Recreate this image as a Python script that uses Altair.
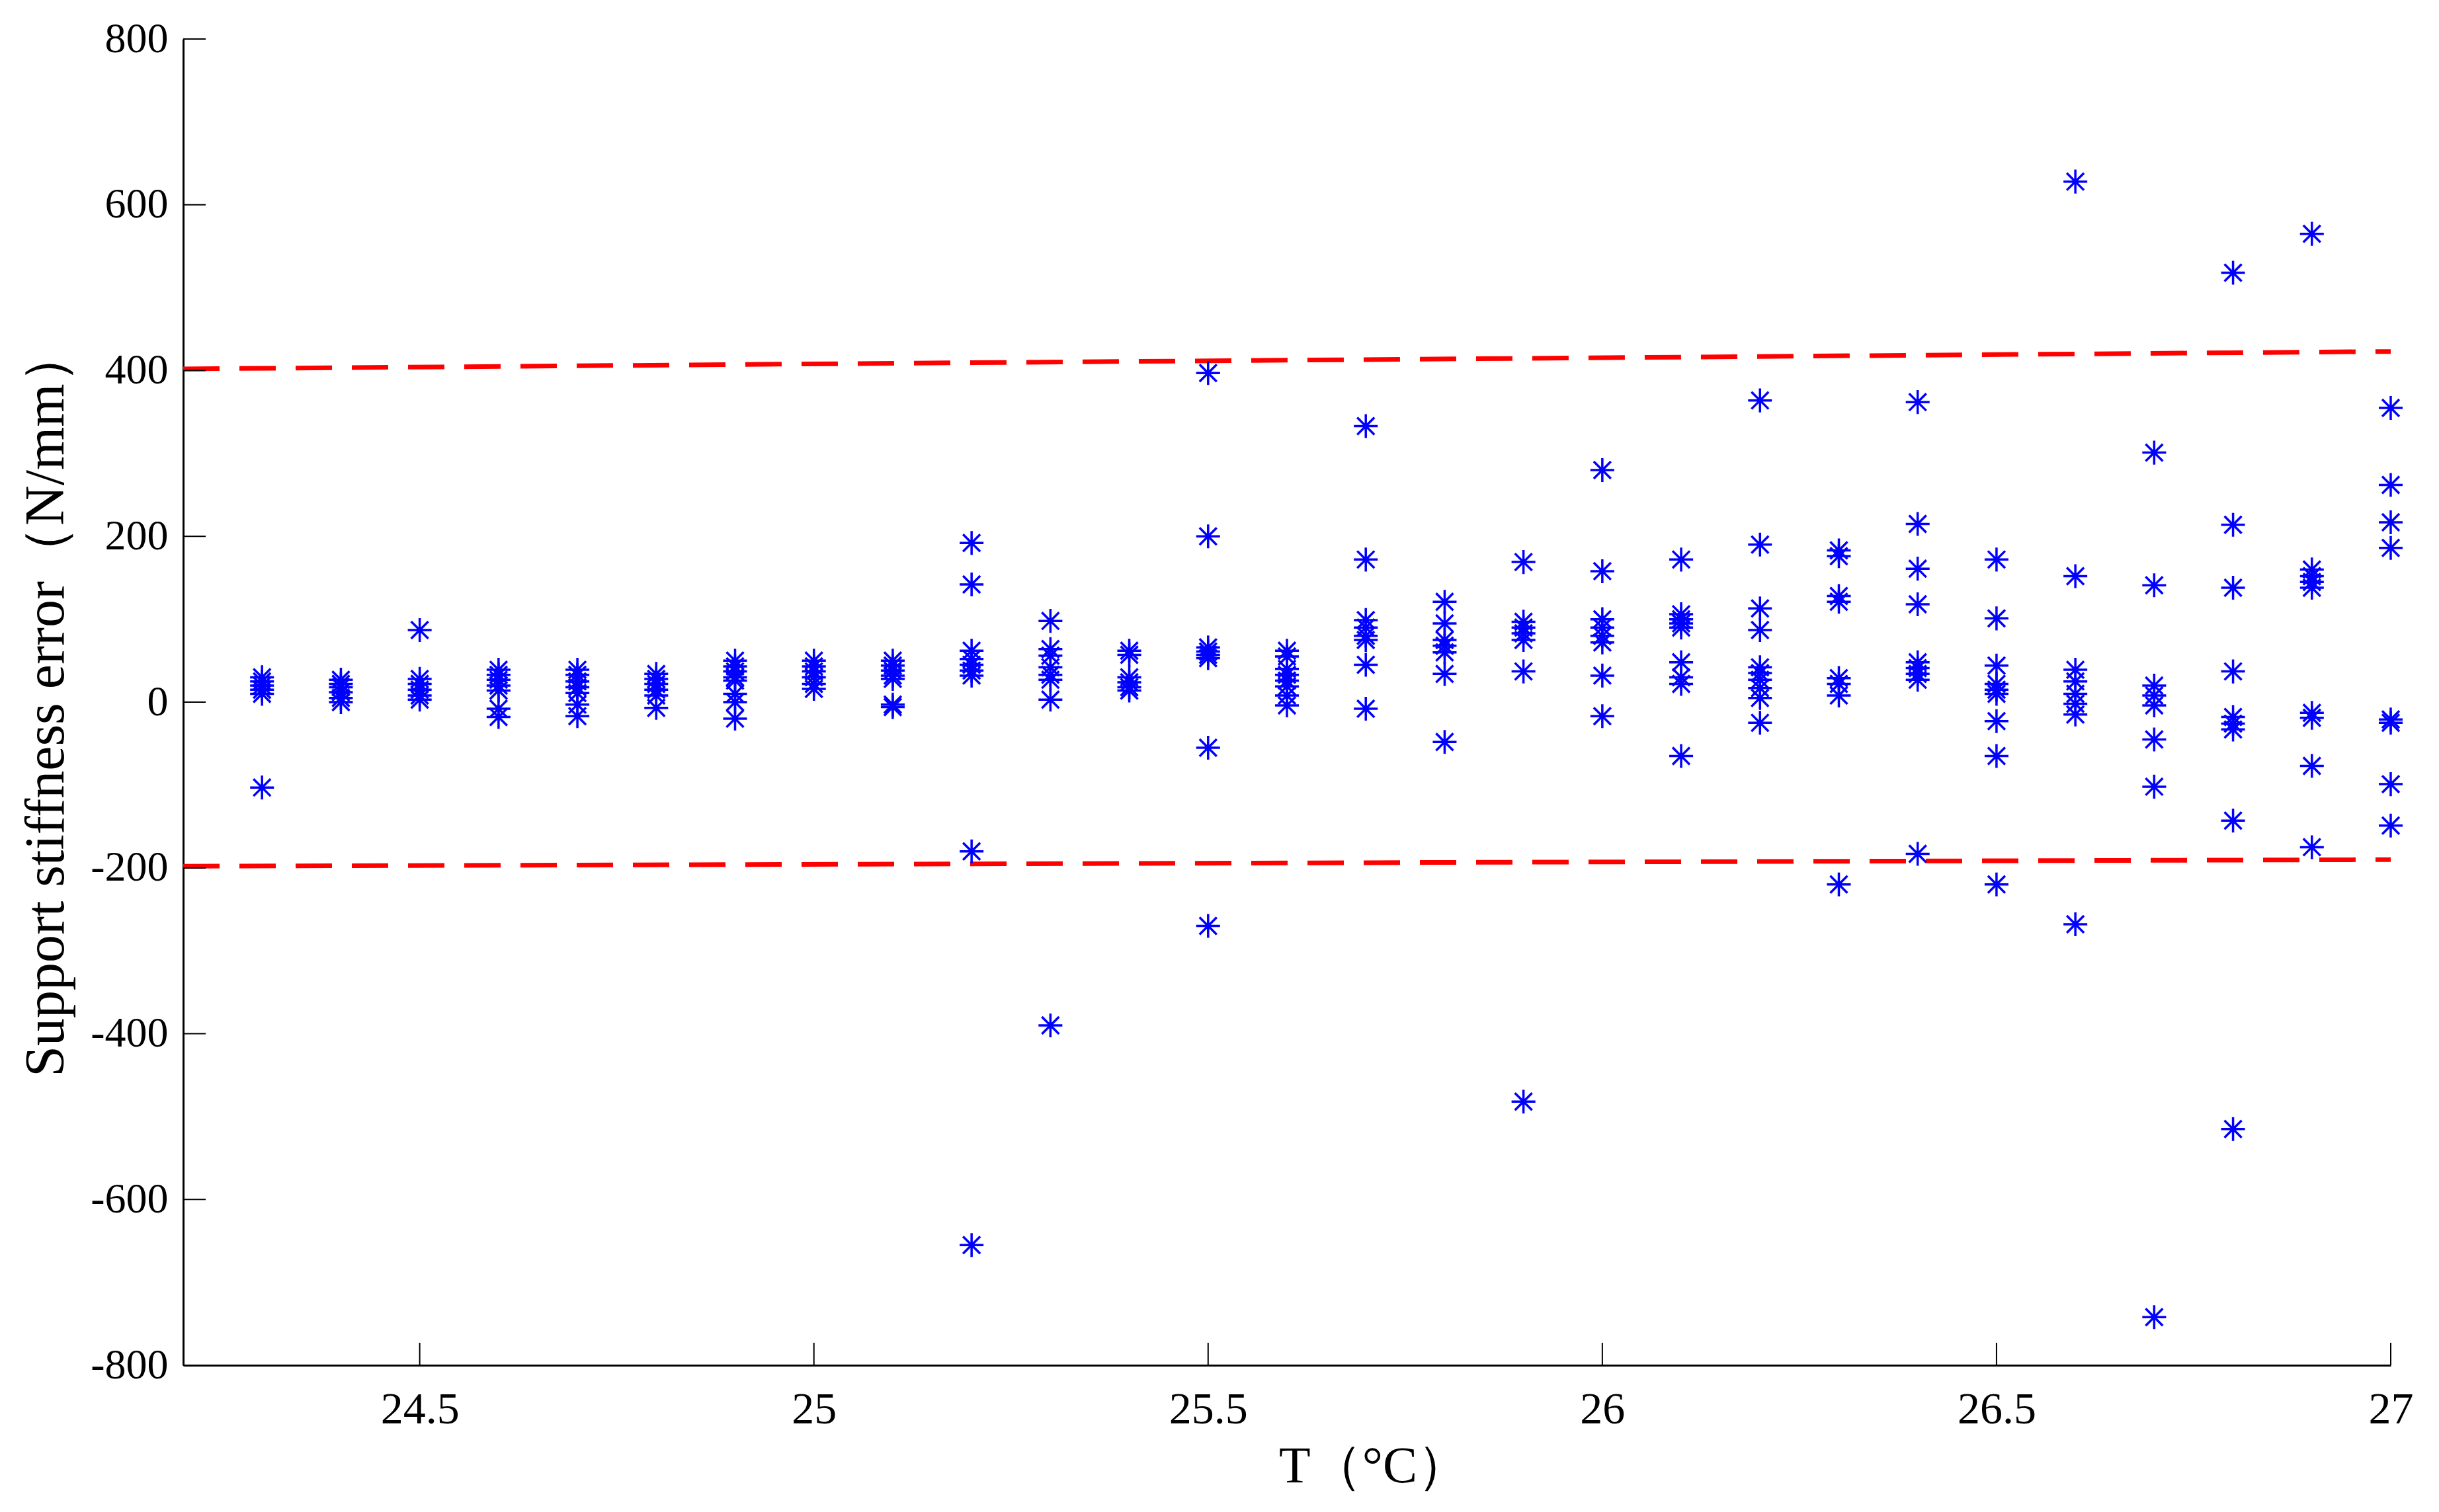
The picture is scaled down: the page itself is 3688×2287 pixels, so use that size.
import altair as alt
import pandas as pd

# ---- data ----
temps = [24.3, 24.4, 24.5, 24.6, 24.7, 24.8, 24.9, 25.0, 25.1, 25.2, 25.3, 25.4, 25.5, 25.6,
         25.7, 25.8, 25.9, 26.0, 26.1, 26.2, 26.3, 26.4, 26.5, 26.6, 26.7, 26.8, 26.9, 27.0]

err_24_3 = [30, 25, 20, 15, 10, -103]
err_24_4 = [27, 22, 18, 12, 5, 0]
err_24_5 = [87, 28, 22, 15, 8, 3]
err_24_6 = [39, 33, 27, 20, 14, -8, -18]
err_24_7 = [39, 33, 25, 18, 11, -3, -17]
err_24_8 = [34, 28, 22, 15, 8, -7]
err_24_9 = [50, 43, 37, 30, 26, 10, 0, -20]
err_25_0 = [50, 43, 37, 30, 22, 16]
err_25_1 = [50, 44, 38, 32, 28, -3, -6]
err_25_2 = [192, 142, 62, 52, 45, 38, 32, -180, -655]
err_25_3 = [98, 64, 56, 42, 33, 27, 3, -390]
err_25_4 = [62, 57, 30, 24, 18, 14]
err_25_5 = [397, 200, 66, 61, 57, 53, -55, -270]
err_25_6 = [62, 55, 40, 33, 26, 19, 8, -4]
err_25_7 = [333, 172, 99, 90, 80, 75, 45, -8]
err_25_8 = [121, 95, 75, 68, 60, 34, -48]
err_25_9 = [169, 97, 90, 83, 75, 37, -482]
err_26_0 = [280, 158, 100, 90, 80, 72, 32, -17]
err_26_1 = [172, 106, 100, 95, 90, 48, 30, 22, -65]
err_26_2 = [364, 190, 113, 87, 42, 35, 27, 17, 5, -25]
err_26_3 = [183, 176, 128, 121, 29, 22, 8, -220]
err_26_4 = [362, 215, 161, 118, 48, 41, 34, 27, -183]
err_26_5 = [172, 101, 44, 22, 15, 10, -23, -65, -220]
err_26_6 = [628, 152, 39, 25, 10, -2, -15, -268]
err_26_7 = [301, 141, 20, 8, -4, -45, -102, -742]
err_26_8 = [518, 214, 138, 37, -18, -26, -33, -143, -515]
err_26_9 = [565, 160, 152, 145, 138, -13, -19, -77, -175]
err_27_0 = [355, 262, 217, 186, -21, -25, -99, -149]

errors = [err_24_3, err_24_4, err_24_5, err_24_6, err_24_7, err_24_8, err_24_9, err_25_0,
          err_25_1, err_25_2, err_25_3, err_25_4, err_25_5, err_25_6, err_25_7, err_25_8,
          err_25_9, err_26_0, err_26_1, err_26_2, err_26_3, err_26_4, err_26_5, err_26_6,
          err_26_7, err_26_8, err_26_9, err_27_0]

# dashed bound lines (end points)
bound_t = [24.2, 27.0]
upper_bound = [402, 423]
lower_bound = [-198, -190]

x_ticks = [24.5, 25, 25.5, 26, 26.5, 27]
y_ticks = [-800, -600, -400, -200, 0, 200, 400, 600, 800]

# ---- tables ----
pts = pd.DataFrame([(t, v) for t, vals in zip(temps, errors) for v in vals], columns=["T", "E"])
bounds = pd.DataFrame(
    [(t, v, "upper") for t, v in zip(bound_t, upper_bound)]
    + [(t, v, "lower") for t, v in zip(bound_t, lower_bound)],
    columns=["T", "E", "which"],
)
xt = pd.DataFrame({"T": x_ticks})
yt = pd.DataFrame({"E": y_ticks})

W, H = 3338, 2006
FONT = "Liberation Serif"
TICK_LEN = 34

xscale = alt.Scale(domain=[24.2, 27], nice=False, zero=False)
yscale = alt.Scale(domain=[-800, 800], nice=False, zero=False)

xaxis = alt.Axis(
    values=x_ticks, ticks=False, grid=False, domainColor="black", domainWidth=3,
    labelFont=FONT, labelFontSize=68, labelColor="black", labelPadding=33,
    labelExpr="'' + datum.value", labelFlush=False, labelOverlap=False,
    title="T（°C）", titleFont=FONT, titleFontSize=78, titleFontWeight="normal",
    titleColor="black", titleX=1800, titleY=153, titleBaseline="middle", titleAlign="center",
)
yaxis = alt.Axis(
    values=y_ticks, ticks=False, grid=False, domainColor="black", domainWidth=3,
    labelFont=FONT, labelFontSize=64, labelColor="black", labelPadding=23,
    labelExpr="'' + datum.value", labelOverlap=False, labelFlush=False,
    title="Support stiffness error（N/mm）", titleFont=FONT, titleFontSize=84,
    titleFontWeight="normal", titleColor="black", titleX=-207, titleY=H / 2,
    titleAngle=270, titleBaseline="middle", titleAlign="center",
)

X = alt.X("T:Q", scale=xscale, axis=xaxis)
Y = alt.Y("E:Q", scale=yscale, axis=yaxis)

ASTERISK = ("M0,-1L0,1M-1,0L1,0M-0.72,-0.72L0.72,0.72M-0.72,0.72L0.72,-0.72")

points = alt.Chart(pts).mark_point(
    shape=ASTERISK, filled=False, color="#0000FF", size=1300, strokeWidth=3.5, opacity=1
).encode(x=X, y=Y)

lines = alt.Chart(bounds).mark_line(
    color="#FF0000", strokeWidth=7, strokeDash=[55, 30]
).encode(x=X, y=Y, detail="which:N")

xtick_marks = alt.Chart(xt).mark_rule(color="black", strokeWidth=2).encode(
    x=X, y=alt.value(H), y2=alt.value(H - TICK_LEN)
)
ytick_marks = alt.Chart(yt).mark_rule(color="black", strokeWidth=2).encode(
    y=Y, x=alt.value(0), x2=alt.value(TICK_LEN)
)

chart = (
    alt.layer(lines, points, xtick_marks, ytick_marks)
    .properties(
        width=W, height=H,
        padding={"left": 269, "top": 51, "right": 60, "bottom": 200},
        autosize=alt.AutoSizeParams(type="none"),
        background="white",
    )
    .configure_view(stroke=None)
)

chart.save("out.html", embed_options={"renderer": "svg", "actions": False})
